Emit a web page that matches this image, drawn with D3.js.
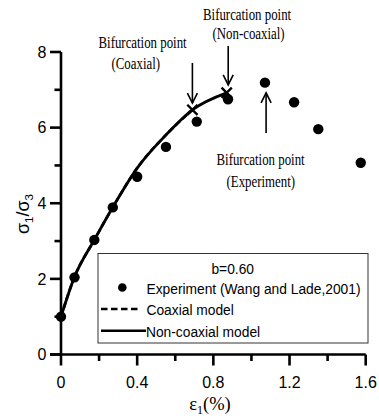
<!DOCTYPE html>
<html>
<head>
<meta charset="utf-8">
<script src="https://cdn.jsdelivr.net/npm/d3@7/dist/d3.min.js"></script>
<style>
  html, body { margin: 0; padding: 0; background: #fff; }
  svg { display: block; }
</style>
</head>
<body>
<script>
// Experimental stress ratio vs axial strain (b = 0.60)
const expStrain = [0, 0.071, 0.175, 0.272, 0.40, 0.551, 0.713, 0.877, 1.071, 1.224, 1.351, 1.574];
const expRatio  = [1.0, 2.04, 3.03, 3.89, 4.70, 5.49, 6.16, 6.75, 7.19, 6.67, 5.96, 5.07];

// Model predictions up to their bifurcation points
const nonCoaxStrain = [0, 0.07, 0.175, 0.275, 0.40, 0.55, 0.69, 0.87];
const nonCoaxRatio  = [1.0, 2.04, 3.03, 3.92, 4.93, 5.80, 6.47, 6.92];
const coaxStrain = [0, 0.07, 0.175, 0.275, 0.40, 0.55, 0.69];
const coaxRatio  = [1.0, 2.04, 3.03, 3.92, 4.93, 5.80, 6.47];

// Bifurcation points [strain, ratio]
const bifCoax = [0.69, 6.47];
const bifNonCoax = [0.87, 6.92];

// Annotation arrows [strain, fromRatio, toRatio]
const arrows = [
  [0.69, 7.71, 6.65],
  [0.878, 8.16, 7.13],
  [1.077, 5.86, 6.92]
];

const xTicks = [0, 0.4, 0.8, 1.2, 1.6];
const xTickLabels = ["0", "0.4", "0.8", "1.2", "1.6"];
const xMinor = [0.2, 0.6, 1.0, 1.4];
const yTicks = [0, 2, 4, 6, 8];
const yTickLabels = ["0", "2", "4", "6", "8"];
const yMinor = [1, 3, 5, 7];

const W = 379, H = 418;
const svg = d3.select("body").append("svg").attr("width", W).attr("height", H);

const x = d3.scaleLinear().domain([0, 1.6]).range([61, 365.7]);
const y = d3.scaleLinear().domain([0, 8]).range([354.5, 52]);

const sans = "'Liberation Sans', Arial, sans-serif";
const serif = "'Liberation Serif', 'Times New Roman', serif";

// Axes
const axisW = 2.6;
const gx = svg.append("g").attr("transform", `translate(0,${y(0)})`);
gx.append("line").attr("x1", x(0) - 11).attr("x2", x(1.6)).attr("y1", 0).attr("y2", 0)
  .attr("stroke", "#000").attr("stroke-width", axisW);
gx.selectAll("line.maj").data(xTicks).join("line").attr("class", "maj")
  .attr("x1", d => x(d)).attr("x2", d => x(d)).attr("y1", 0).attr("y2", 11)
  .attr("stroke", "#000").attr("stroke-width", axisW);
gx.selectAll("line.min").data(xMinor).join("line").attr("class", "min")
  .attr("x1", d => x(d)).attr("x2", d => x(d)).attr("y1", 0).attr("y2", 6.5)
  .attr("stroke", "#000").attr("stroke-width", axisW);
gx.selectAll("text").data(xTicks).join("text")
  .attr("x", d => x(d)).attr("y", 33)
  .attr("text-anchor", "middle")
  .attr("font-family", sans).attr("font-size", 16)
  .text((d, i) => xTickLabels[i]);

const gy = svg.append("g").attr("transform", `translate(${x(0)},0)`);
gy.append("line").attr("x1", 0).attr("x2", 0).attr("y1", y(8)).attr("y2", y(0))
  .attr("stroke", "#000").attr("stroke-width", axisW);
gy.selectAll("line.maj").data(yTicks).join("line").attr("class", "maj")
  .attr("x1", -11).attr("x2", 0).attr("y1", d => y(d)).attr("y2", d => y(d))
  .attr("stroke", "#000").attr("stroke-width", axisW);
gy.selectAll("line.min").data(yMinor).join("line").attr("class", "min")
  .attr("x1", -6.5).attr("x2", 0).attr("y1", d => y(d)).attr("y2", d => y(d))
  .attr("stroke", "#000").attr("stroke-width", axisW);
gy.selectAll("text").data(yTicks).join("text")
  .attr("x", -14.5).attr("y", d => y(d) + 5.8)
  .attr("text-anchor", "end")
  .attr("font-family", sans).attr("font-size", 16)
  .text((d, i) => yTickLabels[i]);

// Axis titles
const xt = svg.append("text").attr("x", 210).attr("y", 410)
  .attr("text-anchor", "middle").attr("font-family", serif).attr("font-size", 18.5);
xt.append("tspan").text("ε");
xt.append("tspan").attr("font-size", 12).attr("dy", 4).text("1");
xt.append("tspan").attr("dy", -4).text("(%)");

const yt = svg.append("text")
  .attr("transform", "translate(28.5,214) rotate(-90)")
  .attr("text-anchor", "middle").attr("font-family", sans).attr("font-size", 18);
yt.append("tspan").text("σ");
yt.append("tspan").attr("font-size", 11.5).attr("dy", 4).text("1");
yt.append("tspan").attr("dy", -4).text("/σ");
yt.append("tspan").attr("font-size", 11.5).attr("dy", 4).text("3");

// Model curves
const line = d3.line().x(d => x(d[0])).y(d => y(d[1])).curve(d3.curveMonotoneX);
svg.append("path").datum(coaxStrain.map((s, i) => [s, coaxRatio[i]]))
  .attr("d", line).attr("fill", "none").attr("stroke", "#000")
  .attr("stroke-width", 2.6).attr("stroke-dasharray", "6,3");
svg.append("path").datum(nonCoaxStrain.map((s, i) => [s, nonCoaxRatio[i]]))
  .attr("d", line).attr("fill", "none").attr("stroke", "#000")
  .attr("stroke-width", 2.8);

// Experimental points
svg.selectAll("circle.exp").data(expStrain.map((s, i) => [s, expRatio[i]])).join("circle")
  .attr("class", "exp")
  .attr("cx", d => x(d[0])).attr("cy", d => y(d[1])).attr("r", 5.2).attr("fill", "#000");

// Bifurcation crosses
const cross = d3.symbol().type(d3.symbolX).size(70);
svg.selectAll("path.bif").data([bifCoax, bifNonCoax]).join("path")
  .attr("class", "bif")
  .attr("d", cross)
  .attr("transform", d => `translate(${x(d[0])},${y(d[1])})`)
  .attr("fill", "none").attr("stroke", "#000").attr("stroke-width", 2.4);

// Arrows
arrows.forEach(a => {
  const ax = x(a[0]), y0 = y(a[1]), y1 = y(a[2]);
  const dir = y1 > y0 ? 1 : -1;
  svg.append("line").attr("x1", ax).attr("x2", ax).attr("y1", y0).attr("y2", y1)
    .attr("stroke", "#000").attr("stroke-width", 1.6);
  svg.append("path")
    .attr("d", `M${ax - 5},${y1 - dir * 10}L${ax},${y1}L${ax + 5},${y1 - dir * 10}`)
    .attr("fill", "none").attr("stroke", "#000").attr("stroke-width", 1.6);
});

// Annotation labels (condensed serif)
function note(px, py, str) {
  svg.append("text")
    .attr("transform", `translate(${px},${py}) scale(0.78,1)`)
    .attr("font-family", serif).attr("font-size", 16.5)
    .text(str);
}
note(98.5, 48, "Bifurcation point");
note(111.5, 68.5, "(Coaxial)");
note(203, 20, "Bifurcation point");
note(212.5, 38.5, "(Non-coaxial)");
note(216.5, 165, "Bifurcation point");
note(226.5, 187, "(Experiment)");

// Legend
const lg = svg.append("g");
lg.append("rect").attr("x", 98).attr("y", 253.5).attr("width", 270).attr("height", 89.5)
  .attr("fill", "#fff").attr("stroke", "#333").attr("stroke-width", 1);
function legText(px, py, str, anchor) {
  lg.append("text")
    .attr("transform", `translate(${px},${py}) scale(0.89,1)`)
    .attr("text-anchor", anchor || "start")
    .attr("font-family", sans).attr("font-size", 15.5)
    .text(str);
}
legText(232.7, 273.5, "b=0.60", "middle");
lg.append("circle").attr("cx", 122.3).attr("cy", 287.5).attr("r", 4.3).attr("fill", "#000");
legText(146.5, 293.5, "Experiment (Wang and Lade,2001)");
lg.append("line").attr("x1", 101).attr("x2", 138.5).attr("y1", 309).attr("y2", 309)
  .attr("stroke", "#000").attr("stroke-width", 2.4).attr("stroke-dasharray", "6.5,3.5");
legText(146.5, 315, "Coaxial model");
lg.append("line").attr("x1", 101).attr("x2", 146).attr("y1", 330.7).attr("y2", 330.7)
  .attr("stroke", "#000").attr("stroke-width", 2.6);
legText(146, 336.5, "Non-coaxial model");
</script>
</body>
</html>
